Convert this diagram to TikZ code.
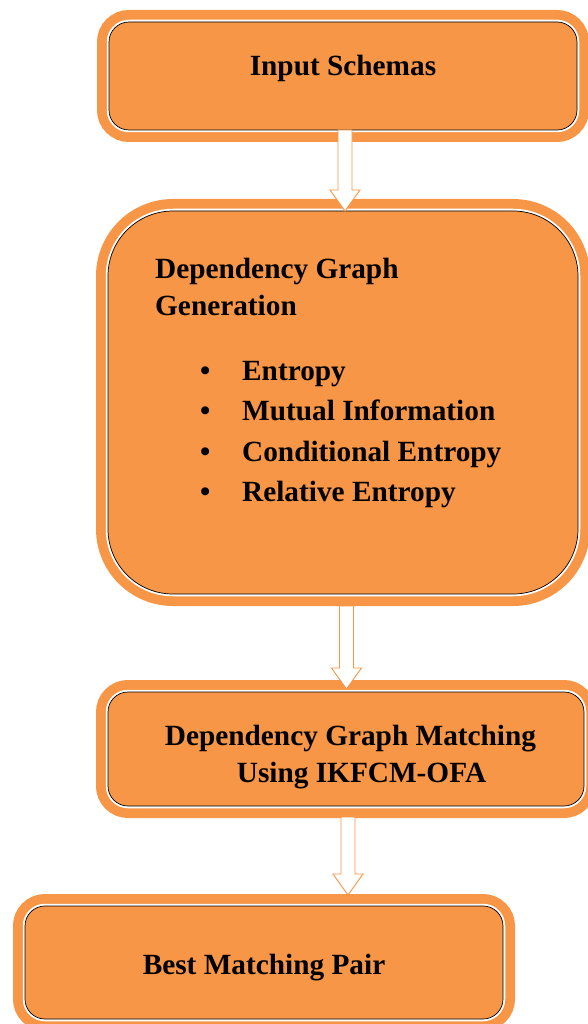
\documentclass[tikz,border=0pt]{standalone}
\usepackage{fontspec}
\setmainfont{Liberation Serif}
\usetikzlibrary{positioning, calc}
\definecolor{wordOrange}{RGB}{247,150,70}
\tikzset{
  box/.style={draw=black, line width=0.7pt, fill=wordOrange, rectangle, rounded corners=20pt,
    inner sep=0pt, outer sep=0pt, align=center, font=\fontsize{29.3}{37}\selectfont\bfseries,
    preaction={draw=wordOrange, line width=24pt},
    preaction={draw=white, line width=4.5pt}},
  list/.style={inner sep=0pt, align=left, font=\fontsize{29.3}{37}\selectfont\bfseries},
  hollow/.style={draw=wordOrange, fill=white, line width=0.9pt, line join=miter}
}
% hollow block arrow: from, to, x offset, start gap, tip gap
\newcommand{\flowarrow}[5]{%
  \draw[hollow] let \p1=(#1.south), \p2=(#2.north) in
    (\x1+#3-7pt,\y1-#4) -- (\x1+#3-7pt,\y2+#5+21pt) -- (\x1+#3-15pt,\y2+#5+21pt) -- (\x1+#3,\y2+#5)
    -- (\x1+#3+15pt,\y2+#5+21pt) -- (\x1+#3+7pt,\y2+#5+21pt) -- (\x1+#3+7pt,\y1-#4) -- cycle;}
\begin{document}
\begin{tikzpicture}[x=1pt, y=-1pt]
    \useasboundingbox (0,0) rectangle (587,1024);
    % the four stages
    \node [box, minimum width=468pt, minimum height=108pt, text depth=22pt] (schemas) at (343,76) {Input Schemas};
    \node [box, below=81pt of schemas, minimum width=470pt, minimum height=383pt, rounded corners=65pt] (depgraph) {};
    \node [list, anchor=north west] (depgraphText) at ([xshift=47pt, yshift=-46.7pt]depgraph.north west)
        {Dependency Graph\\Generation\\[28pt]
         \hspace*{45pt}\makebox[42pt][l]{\textbullet}Entropy\\[3.5pt]
         \hspace*{45pt}\makebox[42pt][l]{\textbullet}Mutual Information\\[3.5pt]
         \hspace*{45pt}\makebox[42pt][l]{\textbullet}Conditional Entropy\\[3.5pt]
         \hspace*{45pt}\makebox[42pt][l]{\textbullet}Relative Entropy};
    \node [box, below=98pt of depgraph, xshift=3pt, minimum width=476pt, minimum height=114pt,
           text height=20pt, text depth=27.5pt] (matching)
        {\begin{tabular}[t]{@{}c@{}}\hspace*{9pt}Dependency Graph Matching\\\hspace*{31pt}Using IKFCM-OFA\end{tabular}};
    \node [box, below=100pt of matching, xshift=-82pt, minimum width=478pt, minimum height=113pt,
           text height=30pt] (best) {Best Matching Pair};

    % arrows between the stages
    \flowarrow{schemas}{depgraph}{2pt}{0pt}{0pt}
    \flowarrow{depgraph}{matching}{3.5pt}{12pt}{3pt}
    \flowarrow{matching}{best}{2pt}{11pt}{11pt}
\end{tikzpicture}
\end{document}
